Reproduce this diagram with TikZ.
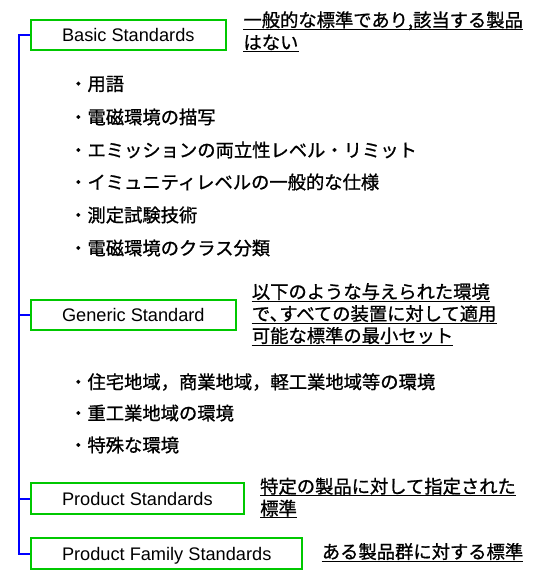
\documentclass[tikz,border=0pt]{standalone}
\usepackage{fontspec}
\setmainfont{Liberation Sans}
\newfontfamily\jp[FakeBold=1]{Noto Sans CJK JP}
\definecolor{boxgreen}{RGB}{0,200,0}

\begin{document}
\begin{tikzpicture}[x=1pt,y=-1pt,
    box/.style={draw=boxgreen,line width=2pt,anchor=west,inner xsep=31pt,minimum height=30.5pt,text height=13pt,text depth=0pt,font=\fontsize{18.2}{22}\selectfont},
    item/.style={anchor=west,inner sep=0pt,font=\jp\fontsize{18.3}{22}\selectfont},
    note/.style={anchor=base west,inner sep=0pt,font=\jp\fontsize{18.3}{22}\selectfont},
    tree/.style={draw=blue,line width=2pt},
    uline/.style={line width=1pt}]
    \useasboundingbox (0,0) rectangle (550,579);

    % Standards
    \node[box] (basic) at (30,34.8) {Basic Standards};
    \node[box] (generic) at (30,315) {Generic Standard};
    \node[box] (product) at (30,498.6) {Product Standards};
    \node[box] (family) at (30,553.5) {Product Family Standards};

    % Tree
    \coordinate (end) at (19,553.5);
    \draw[tree] (basic.west) -| (end) -- (family.west);
    \draw[tree] (generic.west) -- (generic.west -| end);
    \draw[tree] (product.west) -- (product.west -| end);

    % Items
    \node[item] (b1) at (69,84) {・用語};
    \node[item] (b2) at (69,117) {・電磁環境の描写};
    \node[item] (b3) at (69,150) {・エミッションの両立性レベル・リミット};
    \node[item] (b4) at (69,182) {・イミュニティレベルの一般的な仕様};
    \node[item] (b5) at (69,215) {・測定試験技術};
    \node[item] (b6) at (69,248) {・電磁環境のクラス分類};
    \node[item] (g1) at (69,382) {・住宅地域，商業地域，軽工業地域等の環境};
    \node[item] (g2) at (69,413) {・重工業地域の環境};
    \node[item] (g3) at (69,445) {・特殊な環境};

    % Notes
    \node[note] (n1a) at (243.3,26.8) {一般的な標準であり,該当する製品};
    \node[note] (n1b) at (243.3,49.2) {はない};
    \node[note] (n2a) at (251.7,298.5) {以下のような与えられた環境};
    \node[note] (n2b) at (251.7,320.5) {で､すべての装置に対して適用};
    \node[note] (n2c) at (251.7,342.5) {可能な標準の最小セット};
    \node[note] (n3a) at (260,493.2) {特定の製品に対して指定された};
    \node[note] (n3b) at (260,515.2) {標準};
    \node[note] (n4) at (321.7,558.5) {ある製品群に対する標準};
    \foreach \n in {n1a,n1b,n2a,n2b,n2c,n3a,n3b,n4}
        \draw[uline] ([yshift=-2.5pt]\n.base west) -- ([yshift=-2.5pt]\n.base east);
\end{tikzpicture}
\end{document}
